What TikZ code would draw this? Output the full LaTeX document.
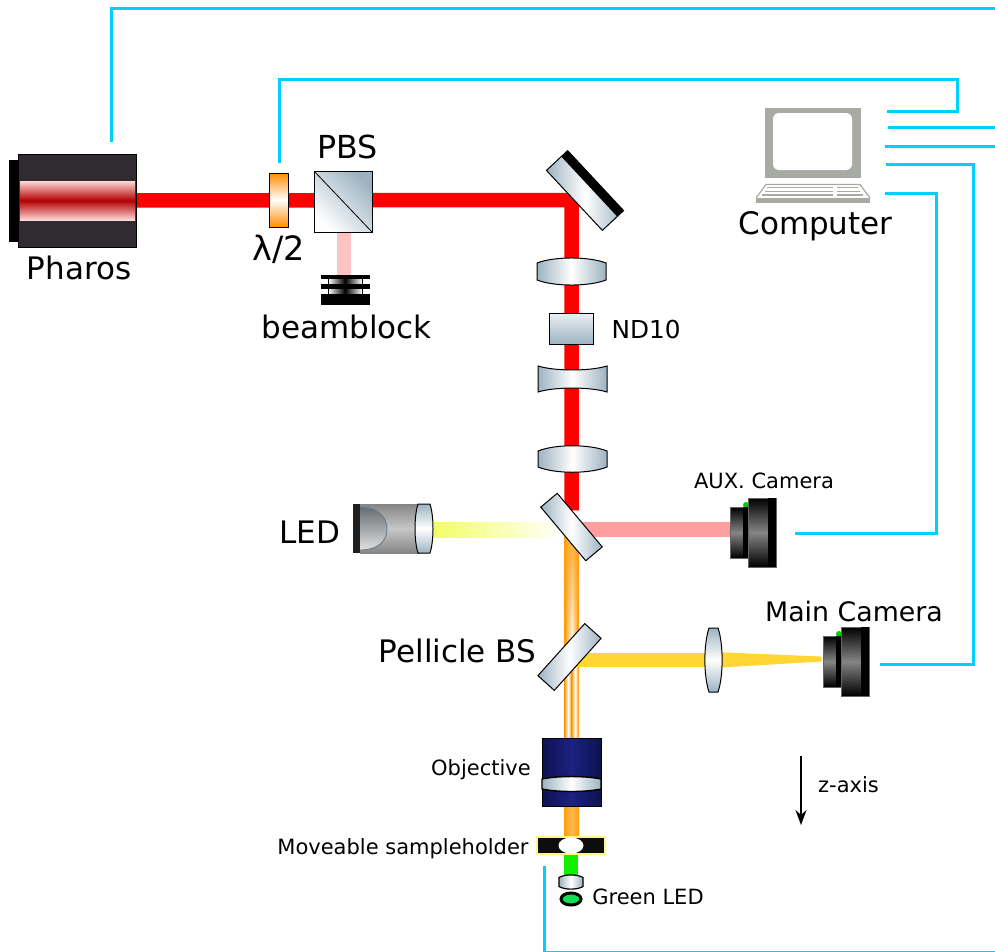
\documentclass[tikz,border=0pt]{standalone}
\usepackage{fontspec}
\setmainfont{DejaVu Sans}
\usetikzlibrary{arrows.meta,backgrounds,calc,fadings,shapes.geometric}
\definecolor{WireBlue}{HTML}{00CFFF}
\definecolor{MetalBlue}{HTML}{9DB3C1}
\definecolor{BodyDark}{HTML}{2F2B30}
\definecolor{BeamRed}{HTML}{FF0000}
\definecolor{BeamPink}{HTML}{FFC2C2}
\definecolor{BeamRose}{HTML}{FF9E9E}
\definecolor{BeamGold}{HTML}{FFD635}
\definecolor{BeamOrange}{HTML}{FF9C0A}
\definecolor{BeamGreen}{HTML}{12F000}
\definecolor{BeamLemon}{HTML}{F2FF60}
\definecolor{LedGreen}{HTML}{10E055}
\definecolor{PcGrey}{HTML}{A8ABA4}
\definecolor{ObjBlue}{HTML}{1C2180}
\definecolor{ObjDark}{HTML}{0E1250}
% lens around a point: name, x, y, half width, half edge, control height
\newcommand{\lensat}[7][]{%
    \coordinate (#2) at (#3,#4);
    \path[lensedge, shift={(#3,#4)}, #1]
        (-#5,-#6) .. controls (-#5/2,-#7) and (#5/2,-#7) .. (#5,-#6)
        -- (#5,#6) .. controls (#5/2,#7) and (-#5/2,#7) .. (-#5,#6) -- cycle;
}
% camera: name, centre of the large body
\newcommand{\camerabody}[3]{%
    \node[circle, fill=green!80!black, minimum size=6pt, inner sep=0pt] (#1led) at (#2-16,#3-27.5) {};
    \node[camshade, minimum width=18pt, minimum height=51pt] (#1front) at (#2-23,#3) {};
    \node[camshade, minimum width=28pt, minimum height=69pt] (#1) at (#2,#3) {};
    \fill[black] ($(#1.north east)+(-8,0)$) rectangle (#1.south east);
    \fill[black] ($(#1front.north east)+(-5,0)$) rectangle (#1front.south east);
}

\begin{document}
\begin{tikzpicture}[
        x=1pt, y=-1pt,
        biglabel/.style={font=\fontsize{31}{36}\selectfont, inner sep=0pt, anchor=base},
        midlabel/.style={font=\fontsize{26.8}{32}\selectfont, inner sep=0pt, anchor=base},
        ndlabel/.style={font=\fontsize{24.7}{30}\selectfont, inner sep=0pt, anchor=base},
        smalllabel/.style={font=\fontsize{21}{26}\selectfont, inner sep=0pt, anchor=base},
        wire/.style={draw=WireBlue, line width=3pt},
        beam/.style={line width=14.5pt},
        flat/.style={inner sep=0pt, outer sep=0pt},
        plate/.style={
            flat, draw=black, line width=1pt,
            left color=MetalBlue, right color=MetalBlue, middle color=white
        },
        lensedge/.style={draw=black, line width=1pt, left color=MetalBlue, right color=MetalBlue, middle color=white},
        lensup/.style={top color=MetalBlue, bottom color=MetalBlue, middle color=white},
        camshade/.style={flat, draw=black!60, line width=0.5pt, top color=black, bottom color=black, middle color=black!48},
        stripe/.style={flat, fill=black, minimum width=49pt},
        gapshade/.style={flat, left color=white, right color=white, middle color=black, minimum width=34pt, minimum height=5pt},
        keybar/.style={draw=PcGrey, line width=1.4pt},
        streak/.style={left color=BeamOrange, right color=BeamOrange, middle color=white}
    ]
        \useasboundingbox (0,0) rectangle (995,951);

        % free wire ends
        \coordinate (pharosport) at (111,142);
        \coordinate (hwpport) at (279,163);
        \coordinate (edgeA) at (995,8);
        \coordinate (edgeB) at (995,127);
        \coordinate (edgeC) at (995,146);
        \coordinate (edgeD) at (995,952);
        \coordinate (bendA) at (957,79);
        \coordinate (bendB) at (973,164);
        \coordinate (bendC) at (936,193);
        \coordinate (portA) at (887,111);
        \coordinate (portB) at (888,127);
        \coordinate (portC) at (885,146);
        \coordinate (portD) at (886,164);
        \coordinate (portE) at (885,193);
        \coordinate (maincamport) at (880,664);
        \coordinate (auxcamport) at (795,533);
        \coordinate (greenport) at (544,866);
        \coordinate (beamcorner) at (571.5,200);
        \coordinate (pinkend) at (344,277);
        \coordinate (auxport) at (735,529.5);
        \coordinate (ledport) at (430,529.5);
        \coordinate (zstart) at (801,756);
        \coordinate (zend) at (801,825);

        % laser
        \node[flat, fill=black, minimum width=9pt, minimum height=82pt] (pharosback) at (13.5,201) {};
        \node[flat, draw=black, line width=1pt, fill=BodyDark, minimum width=118pt, minimum height=93pt] (pharos) at (77,200.5) {};
        \node[flat, minimum width=115pt, minimum height=39pt, top color=white!85!red, bottom color=white!85!red, middle color=red!70!black] (pharoscore) at (77.5,200.5) {};

        % first arm
        \node[flat, draw=black, line width=1pt, minimum width=19pt, minimum height=54pt, top color=orange!90!yellow, bottom color=orange!90!yellow, middle color=white] (hwp) at (278.5,200) {};
        \node[flat, draw=black, line width=1pt, minimum width=58pt, minimum height=61pt, bottom color=white, top color=MetalBlue, shading angle=-45] (pbs) at (343,201.5) {};
        \draw[black, line width=0.8pt] (pbs.north west) -- (pbs.south east);

        \node[stripe, minimum height=4pt] (blockA) at (345.5,277) {};
        \node[gapshade] (gapA) at (345,281.5) {};
        \node[stripe, minimum height=5pt] (blockB) at (345.5,286.5) {};
        \node[gapshade] (gapB) at (345,291.5) {};
        \node[stripe, minimum height=11pt] (blockC) at (345.5,299.5) {};
        \draw[black, line width=0.6pt] (gapA.north west) -- (gapB.south west);
        \draw[black, line width=0.6pt] (gapA.north east) -- (gapB.south east);

        % mirrors and splitters
        \node[plate, minimum width=82pt, minimum height=29pt, rotate=-47] (mirror) at (585,190.5) {};
        \fill[black] (mirror.north west) -- (mirror.north east)
            -- ($(mirror.north east)!0.3!(mirror.south east)$)
            -- ($(mirror.north west)!0.3!(mirror.south west)$) -- cycle;
        \node[plate, minimum width=70pt, minimum height=21.5pt, rotate=-50] (dichroic) at (571.5,527) {};
        \node[plate, minimum width=70pt, minimum height=22pt, rotate=48] (pellicle) at (569.5,657) {};

        % lenses on the vertical arm
        \lensat{lensA}{571.5}{271.5}{34.5}{8.5}{15.2}
        \node[flat, draw=black, line width=1pt, minimum width=44pt, minimum height=31pt, top color=white!80!MetalBlue, bottom color=MetalBlue] (nd) at (571,328.5) {};
        \lensat{lensB}{572.5}{379}{34.5}{13}{7.7}
        \lensat{lensC}{572.5}{459}{34.5}{8}{15}

        % white light source
        \node[flat, fill=black!88, minimum width=7pt, minimum height=49pt] (ledback) at (356.5,528.5) {};
        \node[flat, top color=black!48, bottom color=black!48, middle color=black!22, minimum width=60pt, minimum height=49pt] (ledbody) at (390,528.5) {};
        \path[draw=MetalBlue!70!black, line width=0.9pt, top color=MetalBlue!40!black!80, bottom color=black!12]
            (ledback.east |- 0,507) .. controls (378,507) and (387,517) .. (387,529)
            .. controls (387,541) and (378,550) .. (ledback.east |- 0,550);
        \lensat[rotate=90, lensup]{ledlens}{424}{528.5}{24.5}{6}{10}

        % tube lens and cameras
        \lensat[rotate=90, lensup]{tubelens}{713.5}{660}{32}{4.5}{10}
        \camerabody{auxcam}{762}{532.5}
        \camerabody{maincam}{855}{661.5}

        % objective and sample
        \node[flat, draw=black, line width=1pt, minimum width=59pt, minimum height=68pt, left color=ObjDark, right color=ObjDark, middle color=ObjBlue] (objective) at (571.5,772) {};
        \lensat[line width=1.4pt]{objlens}{571.5}{784}{29.5}{5}{8.3}
        \node[flat, draw=yellow!50, line width=1.4pt, fill=black!95, minimum width=68pt, minimum height=17pt] (holder) at (571,845.5) {};
        \node[flat, ellipse, fill=white, minimum width=25pt, minimum height=16pt] (sample) at (571,845.5) {};
        \lensat[line width=1.2pt]{greenlens}{571}{882}{12}{4.5}{8}
        \node[flat, ellipse, draw=black, line width=3pt, fill=LedGreen, minimum width=20pt, minimum height=12pt] (greenled) at (571,899) {};

        % computer
        \node[flat, fill=PcGrey, minimum width=96pt, minimum height=70pt] (monitor) at (813,143) {};
        \node[flat, fill=white, rounded corners=6pt, minimum width=79pt, minimum height=57pt] (screen) at (812.5,141.5) {};
        \node[flat, fill=PcGrey, minimum width=114pt, minimum height=5pt] (pcbase) at (813,200.5) {};
        \draw[PcGrey, line width=1.2pt] (pcbase.north west) -- (766,184.5) -- (860,184.5) -- (pcbase.north east);
        \draw[keybar] (767,187.5) -- (833,187.5) (837,187.5) -- (858,187.5);
        \draw[keybar] (765,191.5) -- (833,191.5) (837,191.5) -- (860,191.5);
        \draw[keybar] (762,195) -- (833,195) (837,195) -- (863,195);

        % beams
        \begin{scope}[on background layer]
            \draw[beam, draw=BeamRed] (pharos) -- (beamcorner) -- (dichroic);
            \draw[beam, draw=BeamPink] (pinkend |- pbs) -- (pinkend);
            \draw[beam, draw=BeamRose] (dichroic |- auxport) -- (auxport);
            \path[left color=BeamLemon, right color=white] ($(ledport)+(0,-7.5)$) rectangle ($(dichroic |- ledport)+(-7,7.5)$);
            \path[left color=BeamOrange, right color=BeamOrange, middle color=BeamOrange!70!white]
                ($(dichroic)+(-7.5,0)$) rectangle ($(holder.north)+(8,0)$);
            \path[streak, path fading=north]
                ($(dichroic)+(-6.5,28)$) rectangle ($(pellicle)+(8.5,-14)$);
            \path[streak] ($(pellicle)+(-5,-14)$) rectangle ($(objective.north)+(0,0)$);
            \path[streak] ($(pellicle)+(2,-14)$) rectangle ($(objective.north)+(7,0)$);
            \draw[beam, draw=BeamGold] (pellicle |- tubelens) -- (tubelens);
            \filldraw[BeamGold, line width=1pt, line join=round]
                ($(tubelens)+(0,-7.5)$) -- ($(maincamfront.west)+(-2,-4.5)$)
                -- ($(maincamfront.west)+(-2,-0.5)$) -- ($(tubelens)+(0,7.5)$) -- cycle;
            \draw[beam, draw=BeamGreen] (sample) -- (greenlens);
        \end{scope}

        % wires
        \draw[wire] (pharosport) |- (edgeA);
        \draw[wire] (hwpport) |- (bendA) |- (portA);
        \draw[wire] (portB) -- (edgeB);
        \draw[wire] (portC) -- (edgeC);
        \draw[wire] (portD) -- (bendB) |- (maincamport);
        \draw[wire] (portE) -- (bendC) |- (auxcamport);
        \draw[wire] (greenport) |- (edgeD);

        % z direction
        \draw[black, line width=1.5pt, -{Stealth[length=15pt, width=11pt]}] (zstart) -- (zend);

        % labels
        \node[biglabel] (pharoslabel) at (79,279) {Pharos};
        \node[biglabel, font=\fontsize{31.7}{36}\selectfont] (pbslabel) at (347.5,158) {PBS};
        \node[biglabel, font=\fontsize{33.5}{38}\selectfont] (hwplabel) at (278.5,260) {λ/2};
        \node[biglabel] (blocklabel) at (346.5,338) {beamblock};
        \node[ndlabel] (ndlabel) at (646,338) {ND10};
        \node[biglabel] (pclabel) at (815.5,234) {Computer};
        \node[biglabel] (ledlabel) at (310,543) {LED};
        \node[biglabel] (bslabel) at (457.5,662) {Pellicle BS};
        \node[smalllabel] (auxlabel) at (764,488) {AUX. Camera};
        \node[midlabel] (mainlabel) at (854,621) {Main Camera};
        \node[smalllabel] (objlabel) at (481,775) {Objective};
        \node[smalllabel] (holderlabel) at (403,854) {Moveable sampleholder};
        \node[smalllabel] (greenlabel) at (648,904) {Green LED};
        \node[smalllabel] (zlabel) at (848.5,792) {z-axis};
    \end{tikzpicture}
\end{document}
